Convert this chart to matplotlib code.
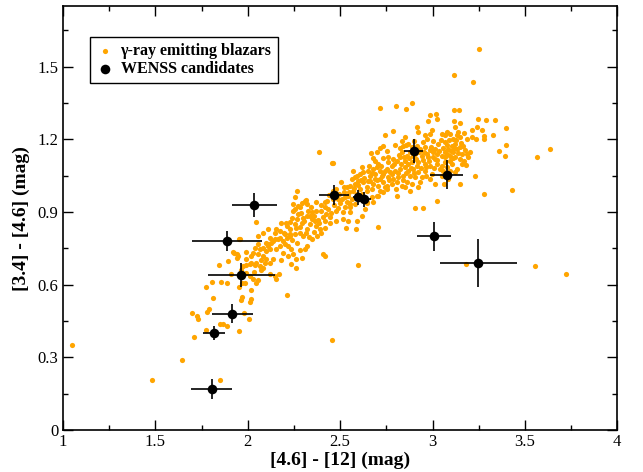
import numpy as np
import matplotlib
matplotlib.use("Agg")
import matplotlib.pyplot as plt
from matplotlib.ticker import MultipleLocator

plt.rcParams['font.family'] = ['Liberation Serif', 'DejaVu Serif']

# gamma-ray blazars (x = [4.6]-[12], y = [3.4]-[4.6])
blazars_tail = [
    (1.051, 0.352), (1.481, 0.205), (1.642, 0.287), (1.852, 0.208),
    (1.709, 0.384), (1.696, 0.484), (1.727, 0.470), (1.731, 0.459), (1.776, 0.412),
    (1.779, 0.489), (1.789, 0.501), (1.810, 0.546), (1.776, 0.591), (1.805, 0.610),
    (1.855, 0.610), (1.888, 0.606), (1.845, 0.680), (1.892, 0.698), (1.848, 0.438),
    (1.866, 0.439), (1.888, 0.431), (1.950, 0.409), (1.982, 0.481), (2.005, 0.460),
    (1.910, 0.645), (1.950, 0.591), (1.967, 0.608), (1.984, 0.608), (1.971, 0.550),
    (1.966, 0.535), (2.011, 0.528), (2.016, 0.542), (2.015, 0.577), (2.045, 0.605),
    (2.058, 0.619), (1.990, 0.680), (2.020, 0.690), (2.040, 0.680),
    (1.921, 0.735), (1.942, 0.727), (1.942, 0.710), (1.955, 0.787),
    (1.993, 0.649), (2.011, 0.636), (2.029, 0.622), (2.211, 0.557),
]

blazars_mid = [
    (2.383, 1.146), (2.269, 0.987), (2.254, 0.963), (2.316, 0.949), (2.296, 0.936),
    (2.368, 0.942), (2.047, 0.859), (2.245, 0.932), (2.272, 0.925), (2.245, 0.905),
    (2.272, 0.891), (2.300, 0.877), (2.291, 0.856), (2.350, 0.898), (2.372, 0.905),
    (2.399, 0.905), (2.417, 0.919), (2.435, 0.912), (2.321, 0.884), (2.345, 0.870),
    (2.363, 0.863), (2.336, 0.849), (2.372, 0.842), (2.321, 0.831), (2.390, 0.829),
    (2.417, 0.836), (2.444, 0.856), (2.480, 0.863), (2.516, 0.870), (2.534, 0.836),
    (2.543, 0.863), (2.589, 0.863), (2.585, 0.829), (2.549, 0.939), (2.556, 0.932),
    (2.209, 0.856), (2.227, 0.829), (2.263, 0.836), (2.281, 0.815), (2.254, 0.808),
    (2.227, 0.801), (2.200, 0.808), (2.173, 0.822), (2.146, 0.815), (2.173, 0.794),
    (2.146, 0.787), (2.119, 0.794), (2.101, 0.774), (2.128, 0.774), (2.083, 0.753),
    (2.065, 0.746), (2.038, 0.753), (2.029, 0.732), (2.056, 0.725), (2.083, 0.718),
    (2.101, 0.705), (2.137, 0.705), (2.119, 0.746), (2.155, 0.746), (2.173, 0.760),
    (2.200, 0.767), (2.218, 0.760), (2.191, 0.732), (2.218, 0.718), (2.236, 0.684),
    (2.263, 0.705), (2.291, 0.711), (2.309, 0.746), (2.318, 0.760), (2.345, 0.787),
    (2.399, 0.815), (2.417, 0.718), (2.408, 0.725), (2.260, 0.670), (2.047, 0.691),
    (1.992, 0.705), (1.974, 0.677), (1.947, 0.718), (1.924, 0.732), (2.065, 0.677),
    (2.083, 0.670), (2.010, 0.684), (2.119, 0.642), (2.146, 0.635), (2.155, 0.622),
    (2.169, 0.646), (2.598, 0.680), (1.956, 0.787), (2.454, 0.370),
    (2.056, 0.801), (2.083, 0.815), (2.110, 0.829), (2.155, 0.829), (2.137, 0.781),
    (2.110, 0.767), (2.192, 0.781), (2.210, 0.794), (2.228, 0.808), (2.264, 0.870),
    (2.228, 0.857), (2.255, 0.912), (2.282, 0.919), (2.309, 0.946), (2.318, 0.932),
]

blazars_core = [
    (2.715, 1.330), (2.800, 1.336), (2.887, 1.350), (2.858, 1.326), (2.987, 1.299),
    (3.017, 1.303), (2.974, 1.274), (2.788, 1.236), (2.923, 1.230), (2.959, 1.216),
    (2.987, 1.223), (2.972, 1.202), (3.005, 1.195), (3.032, 1.181), (2.743, 1.218),
    (2.715, 1.163), (2.733, 1.174), (2.697, 1.149), (2.665, 1.144), (2.851, 1.209),
    (2.833, 1.195), (2.869, 1.181), (2.842, 1.174), (2.887, 1.167), (2.914, 1.174),
    (2.932, 1.160), (2.959, 1.167), (2.987, 1.154), (3.005, 1.147), (3.023, 1.140),
    (3.014, 1.119), (2.978, 1.126), (2.941, 1.133), (2.905, 1.140), (2.878, 1.147),
    (2.860, 1.133), (2.833, 1.147), (2.824, 1.126), (2.806, 1.112), (2.851, 1.112),
    (2.887, 1.105), (2.923, 1.105), (2.959, 1.098), (2.987, 1.091), (3.023, 1.098),
    (3.041, 1.078), (2.788, 1.119), (2.761, 1.105), (2.779, 1.091), (2.752, 1.078),
    (2.770, 1.064), (2.797, 1.071), (2.824, 1.078), (2.851, 1.085), (2.869, 1.071),
    (2.896, 1.078), (2.923, 1.064), (2.959, 1.071), (2.941, 1.043), (2.905, 1.043),
    (2.878, 1.050), (2.842, 1.050), (2.815, 1.043), (2.788, 1.036), (2.761, 1.043),
    (2.734, 1.057), (2.715, 1.071), (2.697, 1.085), (2.688, 1.112), (2.706, 1.098),
    (2.679, 1.078), (2.652, 1.071), (2.625, 1.064), (2.607, 1.057), (2.589, 1.050),
    (2.661, 1.050), (2.688, 1.036), (2.715, 1.036), (2.734, 1.022), (2.706, 1.009),
    (2.679, 1.015), (2.652, 1.029), (2.625, 1.022), (2.598, 1.029), (2.580, 1.015),
    (2.562, 1.036), (2.553, 1.009), (2.535, 1.002), (2.571, 0.988), (2.607, 0.995),
    (2.643, 0.988), (2.670, 0.995), (2.752, 1.009), (2.779, 1.015), (2.806, 1.022),
    (2.833, 1.009), (2.806, 0.967), (2.860, 1.022), (2.887, 1.015), (2.923, 1.002),
    (2.987, 1.036), (2.996, 1.057), (2.905, 0.916), (2.947, 0.915), (2.670, 0.960),
    (2.706, 0.967), (2.730, 0.981), (2.459, 1.102), (2.571, 1.071), (2.504, 1.025),
    (2.477, 0.995), (2.490, 0.953), (2.535, 0.940), (2.553, 0.919), (2.517, 0.898),
    (2.477, 0.905), (2.462, 0.953), (2.616, 0.884), (2.643, 0.940), (2.679, 0.940),
    (2.703, 0.839), (3.023, 0.946), (2.457, 1.101),
    (2.526, 0.919), (2.499, 0.939), (2.580, 0.932), (2.607, 0.953), (2.643, 0.939),
    (2.697, 0.967), (2.715, 0.988), (2.743, 1.002), (2.634, 0.912), (2.553, 0.898),
]

# points packed inside the densest part of the band
blazars_dense = [
    (2.212, 0.842), (2.238, 0.874), (2.257, 0.851), (2.286, 0.897), (2.304, 0.862),
    (2.326, 0.905), (2.342, 0.922), (2.358, 0.884), (2.381, 0.866), (2.394, 0.928),
    (2.408, 0.881), (2.426, 0.893), (2.431, 0.947), (2.447, 0.878), (2.468, 0.931),
    (2.486, 0.918), (2.494, 0.975), (2.511, 0.952), (2.522, 0.981), (2.541, 0.965),
    (2.566, 0.955), (2.574, 1.001), (2.592, 0.976), (2.618, 0.974), (2.631, 1.041),
    (2.647, 1.005), (2.664, 1.028), (2.672, 1.062), (2.691, 1.057), (2.702, 1.031),
    (2.721, 1.088), (2.726, 1.049), (2.745, 1.071), (2.758, 1.126), (2.766, 1.032),
    (2.783, 1.058), (2.794, 1.097), (2.811, 1.061), (2.818, 1.134), (2.829, 1.100),
    (2.838, 1.032), (2.846, 1.126), (2.856, 1.063), (2.866, 1.098), (2.875, 1.121),
    (2.884, 1.082), (2.893, 1.130), (2.901, 1.060), (2.911, 1.118), (2.917, 1.089),
    (2.928, 1.146), (2.936, 1.083), (2.946, 1.116), (2.953, 1.146), (2.965, 1.084),
    (2.971, 1.141), (2.983, 1.110), (2.992, 1.170), (3.001, 1.129), (3.012, 1.160),
    (3.026, 1.116), (3.035, 1.153), (3.044, 1.198), (3.058, 1.164), (3.066, 1.126),
    (3.079, 1.178), (3.088, 1.196), (3.101, 1.151), (3.109, 1.121), (3.118, 1.166),
    (3.127, 1.196), (3.138, 1.143), (3.155, 1.185), (3.162, 1.138), (3.171, 1.112),
    (2.182, 0.853), (2.165, 0.788), (2.194, 0.812), (2.242, 0.786), (2.235, 0.746),
    (2.268, 0.772), (2.284, 0.840), (2.297, 0.799), (2.313, 0.812), (2.331, 0.796),
    (2.356, 0.818), (2.374, 0.801), (2.388, 0.853), (2.096, 0.737), (2.112, 0.758),
    (2.074, 0.703), (2.058, 0.766), (2.015, 0.718), (1.988, 0.733), (1.965, 0.661),
    (2.033, 0.651), (2.074, 0.659), (2.093, 0.691), (2.123, 0.688), (2.181, 0.702),
    (2.244, 0.727), (2.282, 0.742), (2.336, 0.884), (2.417, 0.861), (2.452, 0.896),
    (2.463, 0.987), (2.519, 1.004), (2.547, 0.983), (2.583, 1.043), (2.611, 1.032),
    (2.655, 1.090), (2.676, 1.121), (2.733, 1.121), (2.752, 1.150), (2.795, 1.175),
    (2.823, 1.165), (2.857, 1.178), (2.902, 1.195), (2.915, 1.249), (2.946, 1.190),
    (2.755, 0.996), (2.802, 0.995), (2.853, 1.002), (2.878, 0.985), (2.934, 1.022),
    (2.966, 1.047), (3.006, 1.080), (3.011, 1.017), (3.052, 1.047), (3.070, 1.190),
    (2.617, 1.087), (2.594, 1.012), (2.528, 0.962), (2.438, 0.972), (2.420, 0.940),
]

blazars_right = [
    (3.050, 1.223), (3.068, 1.216), (3.077, 1.230), (3.095, 1.223), (3.113, 1.202),
    (3.131, 1.216), (3.140, 1.230), (3.149, 1.209), (3.122, 1.181), (3.104, 1.174),
    (3.086, 1.160), (3.068, 1.147), (3.050, 1.133), (3.077, 1.140), (3.095, 1.133),
    (3.113, 1.147), (3.131, 1.160), (3.149, 1.167), (3.167, 1.174), (3.176, 1.154),
    (3.185, 1.140), (3.203, 1.147), (3.194, 1.126), (3.149, 1.119), (3.122, 1.126),
    (3.095, 1.112), (3.068, 1.105), (3.050, 1.091), (3.077, 1.085), (3.104, 1.098),
    (3.131, 1.078), (3.122, 1.064), (3.095, 1.071), (3.059, 1.071), (3.158, 1.098),
    (3.182, 1.095), (3.147, 1.014), (3.062, 1.015), (3.086, 1.036),
    (3.185, 1.202), (3.212, 1.209), (3.168, 1.225),
    (3.117, 1.321), (3.145, 1.321), (3.117, 1.274), (3.149, 1.267), (3.124, 1.249),
    (3.247, 1.286), (3.288, 1.281), (3.339, 1.281), (3.268, 1.239), (3.241, 1.253),
    (3.216, 1.239), (3.236, 1.202), (3.281, 1.213), (3.277, 1.202), (3.328, 1.217),
    (3.398, 1.247), (3.398, 1.178), (3.359, 1.151), (3.393, 1.130), (3.230, 1.050),
    (3.277, 0.975), (3.429, 0.992), (3.568, 1.128), (3.637, 1.159), (3.557, 0.677),
    (3.722, 0.644), (3.180, 0.684),
    (3.250, 1.574), (3.118, 1.467), (3.218, 1.437), (3.024, 1.286), (2.997, 1.239),
]

# WENSS candidates with error bars
wenss_x = [2.036, 1.886, 1.966, 1.917, 1.816, 1.805, 2.466, 2.598, 2.627, 2.898, 3.077, 3.008, 3.248]
wenss_y = [0.930, 0.780, 0.641, 0.480, 0.400, 0.170, 0.971, 0.961, 0.952, 1.153, 1.053, 0.800, 0.690]
wenss_xerr = [0.12, 0.19, 0.18, 0.11, 0.06, 0.11, 0.08, 0.03, 0.04, 0.05, 0.09, 0.09, 0.21]
wenss_yerr = [0.05, 0.04, 0.05, 0.04, 0.03, 0.04, 0.04, 0.03, 0.03, 0.05, 0.06, 0.06, 0.10]

blz = np.array(blazars_tail + blazars_mid + blazars_core + blazars_dense + blazars_right)

fig = plt.figure(figsize=(6.43, 4.72), dpi=100)
ax = fig.add_axes([0.098, 0.089, 0.862, 0.898])

ax.scatter(blz[:, 0], blz[:, 1], s=14, color='orange', linewidths=0, zorder=2,
           label='\u03b3-ray emitting blazars')
ax.errorbar(wenss_x, wenss_y, xerr=wenss_xerr, yerr=wenss_yerr, fmt='none',
            ecolor='black', elinewidth=1.2, capsize=0, zorder=3)
ax.scatter(wenss_x, wenss_y, s=48, color='black', linewidths=0, zorder=4,
           label='WENSS candidates')

ax.set_xlim(1, 4)
ax.set_ylim(0, 1.75)
ax.xaxis.set_minor_locator(MultipleLocator(0.25))
ax.yaxis.set_minor_locator(MultipleLocator(0.15))
ax.set_xticks([1, 1.5, 2, 2.5, 3, 3.5, 4])
ax.set_xticklabels(['1', '1.5', '2', '2.5', '3', '3.5', '4'], fontsize=12)
ax.set_yticks([0, 0.3, 0.6, 0.9, 1.2, 1.5])
ax.set_yticklabels(['0', '0.3', '0.6', '0.9', '1.2', '1.5'], fontsize=12)
ax.tick_params(which='both', direction='in', top=True, right=True)
ax.tick_params(which='major', length=7, width=1)
ax.tick_params(which='minor', length=3.5, width=1)
ax.tick_params(axis='x', pad=3)
for s in ax.spines.values():
    s.set_linewidth(1.2)

ax.set_xlabel('[4.6] - [12] (mag)', fontsize=14, fontweight='bold', labelpad=1)
ax.set_ylabel('[3.4] - [4.6] (mag)', fontsize=14, fontweight='bold', labelpad=5)

leg = ax.legend(loc='upper left', bbox_to_anchor=(0.049, 0.927), borderaxespad=0,
                fancybox=False, framealpha=1, edgecolor='black',
                prop={'weight': 'bold', 'size': 11.5}, handlelength=1.0,
                handletextpad=0.5, labelspacing=0.1, borderpad=0.4)
leg.get_frame().set_linewidth(1)

fig.savefig('out.png', dpi=100)
